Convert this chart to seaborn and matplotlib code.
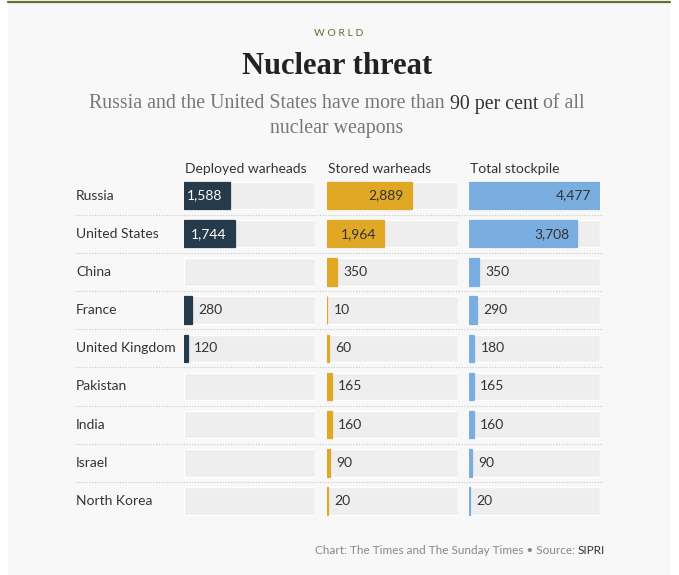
import numpy as np
import pandas as pd
import matplotlib
matplotlib.use("Agg")
import matplotlib.pyplot as plt
import seaborn as sns
from matplotlib.patches import Rectangle
from matplotlib.lines import Line2D
from matplotlib import transforms

# ---- data ----
countries = ["Russia", "United States", "China", "France", "United Kingdom",
             "Pakistan", "India", "Israel", "North Korea"]
deployed = [1588, 1744, 0, 280, 120, 0, 0, 0, 0]
stored = [2889, 1964, 350, 10, 60, 165, 160, 90, 20]
total = [4477, 3708, 350, 290, 180, 165, 160, 90, 20]
headers = ["Deployed warheads", "Stored warheads", "Total stockpile"]

df = pd.DataFrame({"country": countries, "deployed": deployed,
                   "stored": stored, "total": total})

sns.set_theme(style="white")
plt.rcParams["font.family"] = ["Lato", "DejaVu Sans"]

W, H = 679, 575
fig = plt.figure(figsize=(W / 100, H / 100), dpi=100)
fig.patch.set_facecolor("white")

def fx(px):
    return px / W

def fy(py):
    return 1 - py / H

# background card + top rule
fig.patches.append(Rectangle((fx(8), 0), fx(670) - fx(8), fy(3), transform=fig.transFigure,
                             facecolor="#f8f8f8", edgecolor="none", zorder=-10))
fig.add_artist(Line2D([fx(8), fx(670)], [fy(2), fy(2)], transform=fig.transFigure,
                      color="#6c6a33", linewidth=1.6))

# ---- titles ----
fig.text(fx(339), fy(33), "W O R L D", ha="center", va="center", fontsize=7.5,
         color="#6c6a33", family=["Lato"])
fig.text(fx(337), fy(67), "Nuclear threat", ha="center", va="center", fontsize=22,
         fontweight="bold", color="#222222", family=["Liberation Serif"])

renderer = fig.canvas.get_renderer()

def mixed_line(pieces, xc, yc, size):
    texts = []
    for s, c in pieces:
        t = fig.text(0, fy(yc), s, ha="left", va="center", fontsize=size, color=c,
                     family=["Liberation Serif"])
        texts.append(t)
    widths = [t.get_window_extent(renderer).width for t in texts]
    total_w = sum(widths)
    x = xc - total_w / 2
    for t, w in zip(texts, widths):
        t.set_x(fx(x))
        x += w

grey = "#777777"
dark = "#333333"
mixed_line([("Russia and the United States have more than ", grey),
            ("90 per cent", dark), (" of all", grey)], 337, 104, 14.3)
mixed_line([("nuclear weapons", grey)], 337, 129, 14.3)

# ---- panels ----
cols = ["deployed", "stored", "total"]
colors = ["#253a4a", "#e1a826", "#7baee0"]
inside_text = ["white", "#333333", "#333333"]
lefts = [184, 327, 469]
pw = 131
top_px, bot_px = 176.4, 520.2
xmax = max(total)
n = len(countries)
bar_h = 0.72

axes = []
for i, col in enumerate(cols):
    ax = fig.add_axes([fx(lefts[i]), fy(bot_px), pw / W, (bot_px - top_px) / H])
    ax.set_facecolor("none")
    ax.barh(np.arange(n), [xmax] * n, height=bar_h, color="#eeeeee", zorder=0)
    sns.barplot(data=df, y="country", x=col, orient="h", color=colors[i],
                width=bar_h, ax=ax, zorder=2, saturation=1,
                edgecolor=colors[i], linewidth=0.9)
    ax.set_xlim(0, xmax)
    ax.set_ylim(n - 0.5, -0.5)
    ax.axis("off")
    vals = df[col].tolist()
    for j, v in enumerate(vals):
        if v == 0:
            ax.patches[n + j].set_visible(False)
            continue
        lab = f"{v:,}"
        if v > 1000:
            ax.annotate(lab, (v, j), xytext=(-6, 0), textcoords="offset points",
                        ha="right", va="center", fontsize=10, color=inside_text[i])
        else:
            ax.annotate(lab, (v, j), xytext=(4.5, 0), textcoords="offset points",
                        ha="left", va="center", fontsize=10, color="#333333")
    fig.text(fx(lefts[i] + 1), fy(169), headers[i], ha="left", va="center",
             fontsize=10, color="#333333")
    axes.append(ax)

# row labels and separators
ax0 = axes[0]
blend = transforms.blended_transform_factory(fig.transFigure, ax0.transData)
for j, c in enumerate(countries):
    fig.text(fx(76), j, c, transform=blend, ha="left", va="center", fontsize=10,
             color="#333333")
    if j < n - 1:
        fig.add_artist(Line2D([fx(75), fx(603)], [j + 0.5, j + 0.5], transform=blend,
                              color="#c8c8c8", linewidth=0.8, linestyle=(0, (1, 1.5))))

# footer
ft1 = fig.text(0, fy(550), "Chart: The Times and The Sunday Times \u2022 Source: ",
               ha="left", va="center", fontsize=8.5, color="#888888")
ft2 = fig.text(0, fy(550), "SIPRI", ha="left", va="center", fontsize=8.5, color="#333333")
w1 = ft1.get_window_extent(renderer).width
w2 = ft2.get_window_extent(renderer).width
right = 605
ft2.set_x(fx(right - w2))
ft1.set_x(fx(right - w2 - w1))

fig.savefig("out.png", dpi=100, facecolor="white")
